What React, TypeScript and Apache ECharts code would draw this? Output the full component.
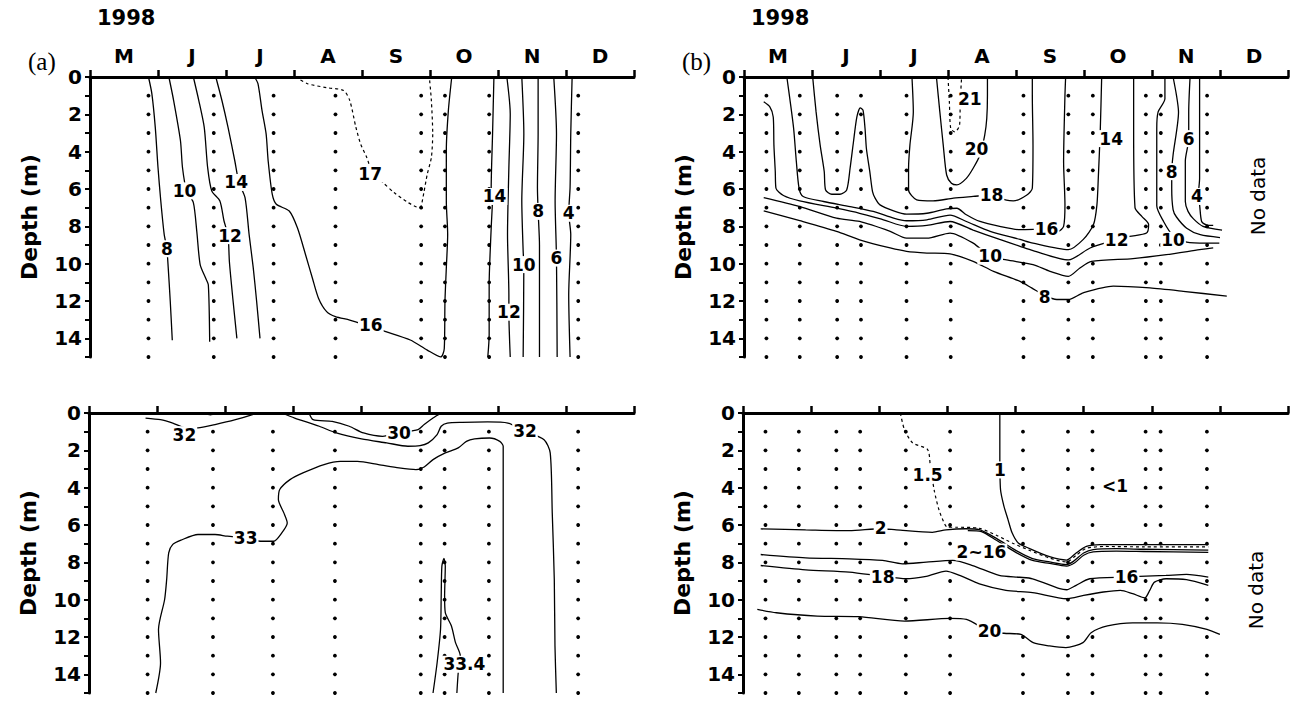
import React, { useEffect, useRef } from "react";
import * as echarts from "echarts";

type Pt = [number, number];

const months = ["M", "J", "J", "A", "S", "O", "N", "D"];
const sampleDepths = [1, 2, 3, 4, 5, 6, 7, 8, 9, 10, 11, 12, 13, 14, 15];
const stationsA = [0.86, 1.82, 2.7, 3.61, 4.87, 5.22, 5.87, 7.18];
const stationsB = [0.33, 0.82, 1.37, 1.72, 2.39, 3.04, 4.11, 4.77, 5.13, 5.91, 6.13, 6.81];

// ---- (a) upper: temperature ----
const aT8: Pt[] = [[0.86, 0], [0.91, 0.9], [0.96, 2.7], [1.0, 4.85], [1.04, 6.6], [1.09, 8.4], [1.13, 9.2], [1.15, 10.2], [1.18, 12.0], [1.21, 14.1]];
const aT10: Pt[] = [[1.16, 0], [1.23, 1.26], [1.33, 3.4], [1.36, 4.85], [1.42, 6.1], [1.52, 6.73], [1.57, 8.26], [1.62, 10.05], [1.7, 10.77], [1.74, 11.13], [1.76, 14.18]];
const aT12: Pt[] = [[1.52, 0], [1.6, 1.26], [1.68, 2.7], [1.73, 4.85], [1.79, 6.1], [1.91, 6.64], [1.97, 7.7], [2.03, 8.5], [2.05, 9.9], [2.1, 11.85], [2.16, 14.0]];
const aT14: Pt[] = [[1.85, 0], [1.94, 1.26], [2.03, 2.7], [2.13, 4.5], [2.19, 5.65], [2.28, 6.46], [2.34, 8.44], [2.4, 10.2], [2.45, 12.0], [2.5, 14.0]];
const aT16: Pt[] = [[2.42, 0], [2.47, 0.36], [2.53, 1.8], [2.59, 3.05], [2.62, 4.49], [2.68, 6.28], [2.74, 6.82], [2.93, 7.18], [3.05, 8.08], [3.17, 9.52], [3.27, 10.77], [3.36, 11.85], [3.48, 12.57], [3.61, 12.84], [3.82, 13.02], [4.13, 13.38], [4.35, 13.64], [4.71, 14.09], [4.96, 14.63], [5.16, 15.0], [5.21, 14.54], [5.22, 12.03], [5.24, 10.23], [5.26, 8.44], [5.24, 6.64], [5.24, 3.95], [5.27, 1.8], [5.32, 0]];
const aT17: Pt[] = [[3.02, 0], [3.2, 0.36], [3.48, 0.57], [3.73, 0.72], [3.82, 1.26], [3.91, 2.69], [3.98, 3.59], [4.07, 4.31], [4.16, 5.2], [4.31, 5.66], [4.47, 6.19], [4.68, 6.73], [4.84, 7.0], [4.87, 6.91], [4.91, 6.19], [4.96, 5.2], [5.02, 4.31], [5.04, 3.05], [5.02, 1.26], [4.99, 0]];
const aT14r: Pt[] = [[5.94, 0], [5.92, 3.05], [5.9, 5.92], [5.92, 6.4], [5.9, 8.08], [5.87, 11.13], [5.87, 13.82], [5.85, 15]];
const aT12r: Pt[] = [[6.13, 0], [6.18, 1.97], [6.16, 4.85], [6.14, 8.44], [6.16, 11.67], [6.16, 12.6], [6.18, 15]];
const aT10r: Pt[] = [[6.35, 0], [6.38, 3.05], [6.35, 6.64], [6.37, 9.34], [6.38, 10.05], [6.37, 15]];
const aT8r: Pt[] = [[6.59, 0], [6.59, 3.05], [6.58, 5.92], [6.59, 7.18], [6.61, 9], [6.61, 15]];
const aT6r: Pt[] = [[6.82, 0], [6.86, 3.05], [6.84, 6.64], [6.86, 9.7], [6.87, 15]];
const aT4r: Pt[] = [[7.09, 0], [7.07, 3.05], [7.06, 5.92], [7.04, 7.27], [7.07, 8.44], [7.04, 11.67], [7.06, 15]];
const aTopLabels: [number, number, string][] = [
  [1.13, 9.2, "8"], [1.39, 6.1, "10"], [2.06, 8.5, "12"], [2.15, 5.65, "14"], [4.13, 13.3, "16"], [4.12, 5.2, "17"],
  [5.95, 6.4, "14"], [6.16, 12.6, "12"], [6.38, 10.05, "10"], [6.59, 7.2, "8"], [6.86, 9.7, "6"], [7.04, 7.3, "4"],
];

// ---- (a) lower: salinity ----
const aS32a: Pt[] = [[0.83, 0.27], [1.05, 0.36], [1.23, 0.54], [1.42, 0.8], [1.6, 0.8], [1.85, 0.62], [2.15, 0.36], [2.4, 0.09], [2.45, 0]];
const aS32b: Pt[] = [[1.69, 0], [1.78, 0.1], [1.88, 0]];
const aS30: Pt[] = [[3.23, 0], [3.29, 0.36], [3.57, 0.45], [3.82, 0.71], [4.03, 1.07], [4.31, 1.25], [4.55, 1.07], [4.83, 0.89], [4.92, 0.62], [5.05, 0.27], [5.17, 0]];
const aS32: Pt[] = [[2.83, 0], [3.02, 0.27], [3.38, 0.71], [3.63, 1.07], [4.0, 1.39], [4.37, 1.6], [4.68, 1.78], [4.86, 1.75], [4.98, 1.6], [5.11, 1.16], [5.17, 0.71], [5.26, 0.54], [5.48, 0.5], [5.85, 0.48], [6.15, 0.54], [6.4, 0.98], [6.68, 1.43], [6.77, 2.14], [6.8, 5.35], [6.83, 8.92], [6.84, 12.48], [6.86, 15]];
const aS33: Pt[] = [[0.98, 15], [1.05, 13.38], [1.02, 11.6], [1.11, 9.99], [1.14, 8.92], [1.17, 7.49], [1.23, 7.04], [1.35, 6.81], [1.6, 6.51], [1.85, 6.51], [2.03, 6.6], [2.3, 6.69], [2.52, 6.87], [2.71, 6.87], [2.83, 6.42], [2.91, 5.89], [2.86, 5.35], [2.78, 4.64], [2.8, 4.1], [2.95, 3.57], [3.14, 3.21], [3.45, 2.76], [3.69, 2.59], [3.94, 2.59], [4.25, 2.76], [4.55, 2.94], [4.8, 3.03], [4.92, 2.89], [5.05, 2.5], [5.23, 2.14], [5.42, 1.87], [5.54, 1.52], [5.66, 1.39], [5.88, 1.34], [6.03, 1.52], [6.08, 1.78], [6.08, 5.35], [6.08, 10.7], [6.08, 15]];
const aS334: Pt[] = [[5.05, 15], [5.11, 13.38], [5.16, 11.6], [5.17, 9.81], [5.18, 8.2], [5.21, 7.79], [5.23, 8.2], [5.22, 9.81], [5.23, 10.7], [5.32, 11.41], [5.38, 12.3], [5.45, 13.0], [5.42, 13.9], [5.4, 15]];
const aBotLabels: [number, number, string][] = [
  [1.4, 1.16, "32"], [4.55, 1.07, "30"], [6.4, 0.98, "32"], [2.3, 6.69, "33"], [5.51, 13.46, "33.4"],
];

// ---- (b) upper: temperature ----
const bT8: Pt[] = [[0.29, 7.17], [0.82, 7.7], [1.36, 8.27], [1.7, 8.72], [2.15, 9.16], [2.39, 9.34], [2.69, 9.43], [3.03, 9.48], [3.37, 9.88], [3.67, 10.41], [4.06, 10.95], [4.23, 11.3], [4.42, 11.7], [4.6, 11.92], [4.77, 11.92], [4.99, 11.56], [5.43, 11.2], [5.97, 11.3], [6.46, 11.48], [7.1, 11.74]];
const bT10: Pt[] = [[0.29, 6.46], [0.82, 6.94], [1.36, 7.56], [1.7, 7.74], [2.15, 8.27], [2.39, 8.63], [2.69, 8.63], [3.03, 8.36], [3.37, 8.9], [3.62, 9.6], [3.86, 9.8], [4.25, 10.05], [4.5, 10.41], [4.77, 10.68], [4.94, 10.23], [5.11, 9.88], [5.72, 9.73], [6.21, 9.52], [6.7, 9.25], [6.9, 9.15]];
const bT12: Pt[] = [[0.29, 1.33], [0.38, 1.6], [0.43, 2.14], [0.44, 3.65], [0.46, 5.07], [0.47, 5.96], [0.58, 6.35], [0.82, 6.64], [1.36, 7.03], [1.7, 7.3], [2.05, 7.65], [2.39, 8.0], [2.69, 7.95], [3.03, 7.74], [3.37, 8.2], [3.76, 8.7], [4.06, 9.07], [4.25, 9.3], [4.77, 9.8], [5.09, 9.16], [5.48, 8.72], [5.67, 8.54], [5.92, 8.36], [5.95, 7.9], [5.85, 7.47], [5.75, 7.0], [5.73, 2.76], [5.73, 0]];
const bT14: Pt[] = [[0.63, 0], [0.68, 1.33], [0.73, 2.76], [0.77, 4.54], [0.81, 5.96], [0.87, 6.4], [1.17, 6.67], [1.56, 6.94], [1.9, 7.2], [2.2, 7.56], [2.39, 7.7], [2.69, 7.65], [3.03, 7.4], [3.27, 7.74], [3.62, 8.27], [4.06, 8.7], [4.25, 8.9], [4.77, 9.25], [4.99, 8.7], [5.14, 7.9], [5.19, 6.85], [5.21, 5.43], [5.24, 2.76], [5.26, 0]];
const bT16: Pt[] = [[1.01, 0], [1.06, 1.87], [1.12, 3.65], [1.18, 5.07], [1.2, 6.05], [1.29, 6.28], [1.41, 6.28], [1.51, 6.05], [1.56, 4.89], [1.61, 3.47], [1.66, 2.14], [1.71, 1.65], [1.75, 1.78], [1.78, 2.76], [1.8, 3.83], [1.85, 5.07], [1.89, 6.14], [1.93, 6.5], [2.0, 6.85], [2.2, 7.17], [2.39, 7.35], [2.69, 7.3], [2.98, 7.06], [3.13, 7.03], [3.27, 7.38], [3.47, 7.74], [3.76, 8.0], [4.06, 8.18], [4.45, 8.15], [4.62, 8.27], [4.7, 8.0], [4.72, 6.85], [4.7, 4.54], [4.72, 0.98], [4.73, 0]];
const bT18: Pt[] = [[2.47, 0], [2.49, 1.87], [2.44, 3.65], [2.42, 4.89], [2.42, 6.05], [2.54, 6.58], [2.78, 6.64], [3.08, 6.49], [3.37, 6.4], [3.64, 6.32], [3.86, 6.6], [3.96, 6.64], [4.16, 6.32], [4.24, 5.96], [4.25, 3.65], [4.24, 0.98], [4.24, 0]];
const bT20: Pt[] = [[2.83, 0], [2.88, 1.87], [2.93, 3.65], [2.98, 5.25], [3.05, 5.69], [3.13, 5.78], [3.27, 5.43], [3.37, 4.89], [3.47, 4.18], [3.54, 3.11], [3.57, 2.22], [3.58, 0.98], [3.58, 0]];
const bT21: Pt[] = [[3.0, 0], [3.02, 1.33], [3.04, 2.76], [3.1, 2.94], [3.17, 2.58], [3.18, 1.33], [3.2, 0]];
const bT10r: Pt[] = [[6.19, 0], [6.19, 1.16], [6.09, 1.87], [6.07, 2.76], [6.07, 6.9], [6.17, 7.74], [6.31, 8.5], [6.51, 8.84], [6.8, 8.9], [6.99, 8.9]];
const bT8r: Pt[] = [[6.31, 0], [6.36, 0.98], [6.39, 1.87], [6.31, 4.18], [6.29, 5.07], [6.29, 5.96], [6.31, 7.1], [6.36, 7.5], [6.51, 8.1], [6.71, 8.45], [7.0, 8.6]];
const bT6r: Pt[] = [[6.56, 0], [6.54, 1.87], [6.54, 3.3], [6.49, 4.5], [6.49, 6.67], [6.53, 7.2], [6.61, 7.6], [6.75, 8.0], [7.03, 8.2]];
const bT4r: Pt[] = [[6.7, 0], [6.7, 2.76], [6.7, 5.43], [6.68, 6.4], [6.7, 6.85], [6.73, 7.74], [6.8, 7.92], [6.9, 7.95]];
const bTopLabels: [number, number, string][] = [
  [3.32, 1.19, "21"], [3.42, 3.86, "20"], [3.64, 6.32, "18"], [4.45, 8.15, "16"], [5.4, 3.3, "14"], [5.48, 8.72, "12"],
  [3.62, 9.6, "10"], [6.31, 8.75, "10"], [4.42, 11.8, "8"], [6.29, 5.07, "8"], [6.54, 3.3, "6"], [6.66, 6.4, "4"],
];

// ---- (b) lower ----
const b15: Pt[] = [[2.31, 0], [2.37, 0.89], [2.49, 1.6], [2.71, 1.96], [2.75, 2.85], [2.81, 4.2], [2.88, 5.23], [2.96, 5.94], [3.0, 6.12], [3.13, 6.12], [3.47, 6.18], [3.72, 6.55], [3.96, 6.98], [4.2, 7.35], [4.5, 7.77], [4.75, 7.98], [4.89, 7.62], [5.04, 7.25], [5.3, 7.15], [5.88, 7.17], [6.83, 7.17]];
const b1: Pt[] = [[3.77, 0], [3.77, 2.14], [3.78, 4.1], [3.83, 4.99], [3.89, 5.71], [3.95, 6.42], [4.04, 6.96], [4.2, 7.25], [4.5, 7.7], [4.75, 7.88], [4.89, 7.5], [5.04, 7.15], [5.24, 7.05], [5.88, 7.05], [6.83, 7.05]];
const b2: Pt[] = [[0.26, 6.21], [0.92, 6.26], [1.56, 6.3], [2.02, 6.2], [2.25, 6.26], [2.78, 6.39], [2.98, 6.26], [3.27, 6.2], [3.47, 6.25], [3.72, 6.72], [4.01, 7.37], [4.25, 7.8], [4.5, 7.98], [4.75, 8.12], [4.85, 7.95], [5.0, 7.5], [5.14, 7.32], [5.48, 7.27], [5.88, 7.3], [6.83, 7.35]];
const b2b: Pt[] = [[3.3, 6.3], [3.5, 6.35], [3.72, 6.82], [4.01, 7.48], [4.25, 7.9], [4.5, 8.06], [4.75, 8.2], [4.87, 8.02], [5.0, 7.62], [5.14, 7.44], [5.48, 7.4], [5.88, 7.42], [6.83, 7.47]];
const b16: Pt[] = [[0.26, 7.58], [0.92, 7.76], [1.56, 7.81], [2.05, 7.9], [2.34, 8.08], [2.69, 7.99], [3.08, 7.9], [3.37, 8.17], [3.76, 8.7], [4.06, 8.8], [4.25, 8.88], [4.65, 9.41], [4.75, 9.47], [4.89, 9.23], [5.09, 8.88], [5.63, 8.79], [5.82, 8.75], [6.21, 8.7], [6.51, 8.65], [6.83, 8.79]];
const b18: Pt[] = [[0.26, 8.17], [0.92, 8.4], [1.56, 8.52], [2.05, 8.75], [2.39, 8.88], [2.69, 8.75], [2.98, 8.47], [3.18, 8.7], [3.47, 9.15], [3.86, 9.5], [4.25, 9.62], [4.75, 9.95], [5.0, 9.77], [5.29, 9.59], [5.54, 9.5], [5.72, 9.68], [5.9, 9.9], [5.97, 9.5], [6.04, 9.06], [6.21, 8.88], [6.51, 8.93], [6.83, 9.23]];
const b20: Pt[] = [[0.21, 10.52], [0.49, 10.7], [1.09, 10.88], [1.7, 10.91], [2.37, 11.15], [3.04, 11.0], [3.28, 11.06], [3.62, 11.7], [3.83, 11.8], [4.08, 11.86], [4.26, 12.3], [4.5, 12.48], [4.74, 12.57], [4.99, 12.3], [5.11, 11.77], [5.35, 11.41], [5.72, 11.24], [6.08, 11.24], [6.45, 11.32], [6.81, 11.59], [7.0, 11.86]];
const bBotLabels: [number, number, string][] = [
  [2.71, 3.3, "1.5"], [3.77, 3.05, "1"], [5.46, 3.9, "<1"], [2.02, 6.15, "2"], [3.5, 7.45, "2~16"],
  [5.63, 8.79, "16"], [2.05, 8.8, "18"], [3.62, 11.68, "20"],
];

const FONT = "DejaVu Sans";
const INK = "#000";

interface Panel {
  stations: number[];
  solid: Pt[][];
  dashed: Pt[][];
  labels: [number, number, string][];
}

const panels: Panel[] = [
  { stations: stationsA, solid: [aT8, aT10, aT12, aT14, aT16, aT14r, aT12r, aT10r, aT8r, aT6r, aT4r], dashed: [aT17], labels: aTopLabels },
  { stations: stationsA, solid: [aS32a, aS32b, aS30, aS32, aS33, aS334], dashed: [], labels: aBotLabels },
  { stations: stationsB, solid: [bT8, bT10, bT12, bT14, bT16, bT18, bT20, bT10r, bT8r, bT6r, bT4r], dashed: [bT21], labels: bTopLabels },
  { stations: stationsB, solid: [b1, b2, b2b, b16, b18, b20], dashed: [b15], labels: bBotLabels },
];

const grids = [
  { left: 90, top: 77, width: 544, height: 280 },
  { left: 89, top: 413, width: 545, height: 280 },
  { left: 744, top: 77, width: 544, height: 280 },
  { left: 743, top: 413, width: 545, height: 280 },
];

export default function App() {
  const ref = useRef<HTMLDivElement>(null);
  useEffect(() => {
    if (!ref.current) return;
    const chart = echarts.init(ref.current, undefined, { renderer: "svg" });
    const xAxis: any[] = [];
    const yAxis: any[] = [];
    const series: any[] = [];
    grids.forEach((_, g) => {
      xAxis.push({
        type: "value", gridIndex: g, position: "top", min: 0, max: 8, interval: 1,
        axisLine: { onZero: false, lineStyle: { color: INK, width: 3 } },
        axisTick: { length: 7, lineStyle: { color: INK, width: 2.5 } },
        axisLabel: { show: false }, splitLine: { show: false },
      });
      yAxis.push({
        type: "value", gridIndex: g, inverse: true, min: 0, max: 15, interval: 1,
        name: "Depth (m)", nameLocation: "middle", nameGap: 50, nameRotate: 90,
        nameTextStyle: { fontSize: 22, fontWeight: "bold", color: INK, fontFamily: FONT },
        axisLine: { onZero: false, lineStyle: { color: INK, width: 3 } },
        axisTick: { length: 5, lineStyle: { color: INK, width: 2 } },
        axisLabel: { formatter: (v: number) => (v % 2 === 0 ? String(v) : ""), fontSize: 20, fontWeight: "bold", margin: 8, color: INK, fontFamily: FONT },
        splitLine: { show: false },
      });
    });
    [0, 2].forEach((g) => {
      xAxis.push({
        type: "category", gridIndex: g, position: "top", data: months, boundaryGap: true,
        axisLine: { show: false, onZero: false }, axisTick: { show: false }, splitLine: { show: false },
        axisLabel: { fontSize: 20, fontWeight: "bold", color: INK, margin: 11, fontFamily: FONT },
      });
    });
    panels.forEach((p, g) => {
      const dots: Pt[] = [];
      p.stations.forEach((s) => sampleDepths.forEach((d) => dots.push([s, d])));
      series.push({
        type: "scatter", xAxisIndex: g, yAxisIndex: g, data: dots, symbolSize: 3.8, silent: true,
        itemStyle: { color: INK, opacity: 1 },
      });
      p.solid.forEach((c) =>
        series.push({
          type: "line", xAxisIndex: g, yAxisIndex: g, data: c, showSymbol: false, symbol: "none", smooth: 0.25,
          lineStyle: { color: INK, width: 1.3 }, silent: true,
        })
      );
      p.dashed.forEach((c) =>
        series.push({
          type: "line", xAxisIndex: g, yAxisIndex: g, data: c, showSymbol: false, symbol: "none", smooth: 0.25,
          lineStyle: { color: INK, width: 1.2, type: [3, 3] }, silent: true,
        })
      );
      series.push({
        type: "scatter", xAxisIndex: g, yAxisIndex: g, symbolSize: 1, silent: true, z: 10,
        itemStyle: { color: "rgba(255,255,255,0)", opacity: 1 },
        data: p.labels.map((l) => ({ value: [l[0], l[1]], name: l[2] })),
        label: {
          show: true, position: "inside", formatter: "{b}", fontSize: 17, color: "#000", fontFamily: FONT,
          fontWeight: "bold", backgroundColor: "#fff", padding: [0, 1], textBorderWidth: 0,
        },
      });
    });
    const txt = (x: number, y: number, text: string, size: number, family: string, align = "left", rotation = 0, weight = "normal") => ({
      type: "text", x, y, rotation,
      style: { text, fontSize: size, fontFamily: family, fontWeight: weight, fill: INK, align, verticalAlign: "middle" },
    });
    chart.setOption({
      animation: false,
      backgroundColor: "#fff",
      grid: grids,
      xAxis, yAxis, series,
      graphic: [
        txt(97, 18, "1998", 21, FONT, "left", 0, "bold"),
        txt(751, 18, "1998", 21, FONT, "left", 0, "bold"),
        txt(28, 61, "(a)", 25, "Liberation Serif"),
        txt(682, 61, "(b)", 25, "Liberation Serif"),
        txt(1258, 196, "No data", 20, FONT, "center", Math.PI / 2),
        txt(1256, 590, "No data", 20, FONT, "center", Math.PI / 2),
      ],
    });
    return () => chart.dispose();
  }, []);
  return <div ref={ref} style={{ position: "fixed", left: 0, top: 0, width: 1299, height: 701, background: "#fff" }} />;
}
